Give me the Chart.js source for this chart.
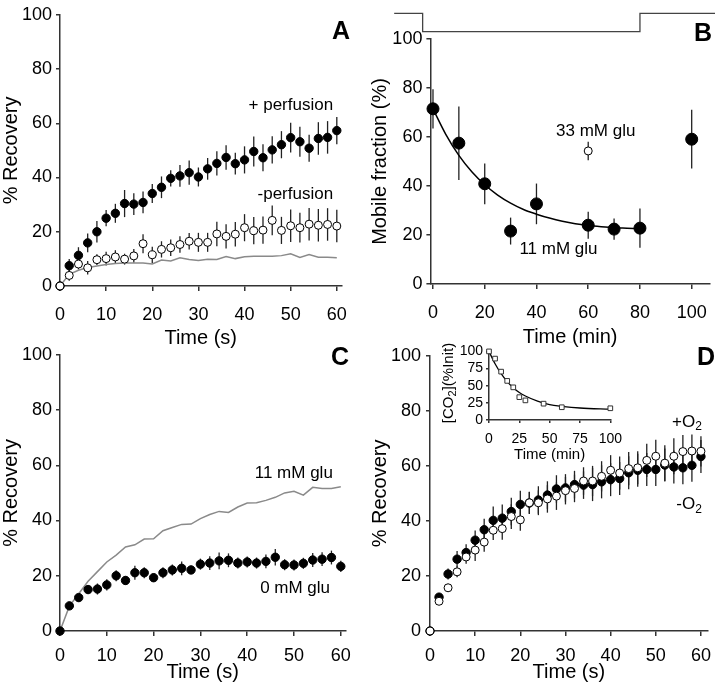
<!DOCTYPE html>
<html><head><meta charset="utf-8">
<script src="https://cdn.jsdelivr.net/npm/chart.js@4"></script>
<style>
html,body{margin:0;padding:0;background:#fff;}
body{width:720px;height:683px;position:relative;overflow:hidden;}
canvas{position:absolute;}
</style></head><body>
<canvas id="cA" width="360" height="350" style="left:0;top:0"></canvas>
<canvas id="cB" width="360" height="350" style="left:360px;top:0"></canvas>
<canvas id="cC" width="360" height="343" style="left:0;top:340px"></canvas>
<canvas id="cD" width="360" height="343" style="left:360px;top:340px"></canvas>
<canvas id="cI" width="190" height="125" style="left:440px;top:340px"></canvas>
<script>
// ---------- DATA ----------
const time60 = [0,2,4,6,8,10,12,14,16,18,20,22,24,26,28,30,32,34,36,38,40,42,44,46,48,50,52,54,56,58,60];
const ticksY100 = [0,20,40,60,80,100];
const ticksX60 = [0,10,20,30,40,50,60];

// Panel A
const perfOn    = [0,7.5,11.3,15.9,20,25,26.8,30.4,30.2,30.8,34.1,36.4,39.7,40.6,41.8,40.2,43.2,45.2,47.4,45.1,46.5,49.6,47.3,50.2,52.1,54.7,53.2,50.8,54.4,54.8,57.3];
const perfOnErr = [0,2.5,3,3.5,4,3,3.5,5,4,4,3.5,4,3,4,4.5,3.5,4,4.5,4.5,4,5,5.5,5,5,5,5.5,5.5,5,6,6,5];
const perfOff   = [0,3.9,8.1,6.7,9.7,10.1,10.7,9.9,11.1,15.6,11.5,13.5,14.1,15.3,16.5,16.1,16.1,19.2,18.3,19.1,21.5,20.4,20.6,24.2,20.5,22.2,21.5,22.8,22.4,22.7,22.1];
const perfOffErr= [0,2,2,2.5,2,2.5,2.5,2,2.5,3.5,3,3,3,3,3,3.5,3.5,4.5,4.5,4.5,5,5,5,5.5,5,6,5.5,6,6,6,6];
const ctrlA     = [0,4.3,5.8,6.8,7.4,7.9,8.3,8.5,8.5,8.5,8.1,9.6,9.2,10.4,9.8,9.4,9.9,9.8,10.9,10.1,10.8,11,11,11,11.2,11.9,10.5,11.6,10.6,10.6,10.4];

// Panel B
const timeB    = [0,10,20,30,40,60,70,80,100];
const mobile   = [71.5,57.5,40.9,21.6,32.7,24,22.4,22.8,59.1];
const mobileErr= [8,15,8.3,5.5,8.3,5.5,4.3,8,12];
const time33   = [60];
const mobile33 = [54.3];
const mobile33Err = [3.8];
const fitTimeB = [0,5,10,15,20,25,30,35,40,45,50,55,60,65,70,75,80];
const fitB     = [71.5,61,52.5,45.8,40.5,36.3,33,30.4,28.5,26.9,25.6,24.6,23.9,23.4,23,22.8,22.6];
const ticksXB  = [0,20,40,60,80,100];
const stepTimeB  = [-15,-4,-4,80,80,109];
const stepLevelB = [110.5,110.5,103,103,110.5,110.5];

// Panel C
const glu0    = [0,9.1,12.1,15,15.2,16.7,20,18.3,21.1,21.1,19.3,21.1,22.1,22.7,22.1,24.2,24.6,25.4,25.6,24.6,25,24.6,25.2,26.7,24,23.9,24.5,25.7,26,26.6,23.4];
const glu0Err = [0,1.5,1.5,1.5,2,2,2,1.5,2.5,2,1.5,2,2,2.5,1.5,2,2.5,3,2.5,2,2,2,2.5,3,2,2,2,2.5,2.5,2.5,2];
const glu11   = [0,9,13.5,18,21.5,25,27.5,30.4,31.2,33.3,33.4,36.3,37.5,38.6,38.7,40.7,42.2,43.3,42.9,44.9,46.3,46.4,47.3,48.4,50,50.6,49.2,52,51.6,51.6,52.2];

// Panel D
const o2Off    = [0,12.3,20.7,26.1,28.5,33,36.8,40.2,41,43.4,46,46.5,47.6,49.4,51.6,52,53.2,53,53.2,54.2,55,55.4,57.5,58.4,58.7,58.7,60.3,59.6,59.3,60.2,63.4];
const o2OffErr = [0,1.5,2,3,3,3.5,4,5,5,5,5,4,5,5,5,5,5,5,6,6,6,6,6,6,6,6,6,6,6,6,6];
const o2On     = [0,10.8,15.7,21.5,26.9,29.4,32.3,36.6,37.2,41.6,40.4,46.6,46.6,48,49,51,51.8,54.5,54.5,56.2,58.4,57.4,59,59.3,62,63.5,61,63.5,65.2,65.4,65.3];
const o2OnErr  = [0,1,1.5,2,2.5,4,3.5,3.5,4,4.5,4,4,4.5,5,5,5,5,5,5.5,5.5,5.5,6,6,6,6,6,6.5,6.5,6,6,5.5];

// Inset
const co2Time  = [0,5,10,15,20,25,30,45,60,100];
const co2      = [100,89.5,70.5,57,47.6,33.3,28.6,23.8,18.6,17.1];
const co2FitT  = [0,5,10,15,20,25,30,40,50,60,75,100];
const co2Fit   = [100,82,67.5,56,47,40,35,27.5,22.5,20,17.5,15.8];
const ticksInset = [0,25,50,75,100];

// ---------- HELPERS ----------
const FONT = "'Liberation Sans', Arial, Helvetica, sans-serif";
const AX = '#333';
const GRAY = '#8a8a8a';
const pts = (xs, ys) => xs.map((x, i) => ({x: x, y: ys[i]}));

Chart.register({
  id: 'errorBars',
  beforeDatasetsDraw(chart) {
    const ctx = chart.ctx;
    chart.data.datasets.forEach((ds, i) => {
      if (!ds.errors) return;
      const meta = chart.getDatasetMeta(i);
      const xs = chart.scales[meta.xAxisID], ys = chart.scales[meta.yAxisID];
      ctx.save();
      ctx.strokeStyle = '#222';
      ctx.lineWidth = 1.3;
      ds.data.forEach((p, j) => {
        const e = ds.errors[j];
        if (!e) return;
        const x = xs.getPixelForValue(p.x);
        ctx.beginPath();
        ctx.moveTo(x, ys.getPixelForValue(p.y - e));
        ctx.lineTo(x, ys.getPixelForValue(p.y + e));
        ctx.stroke();
      });
      ctx.restore();
    });
  }
});

function drawParts(ctx, x, y, parts, align) {
  ctx.save();
  ctx.textBaseline = 'middle';
  ctx.textAlign = 'left';
  let w = 0;
  parts.forEach(p => { ctx.font = (p[3] || 'normal') + ' ' + p[1] + 'px ' + FONT; w += ctx.measureText(p[0]).width; });
  let cx = align === 'right' ? x - w : align === 'center' ? x - w / 2 : x;
  parts.forEach(p => {
    ctx.font = (p[3] || 'normal') + ' ' + p[1] + 'px ' + FONT;
    ctx.fillStyle = '#000';
    ctx.fillText(p[0], cx, y + (p[2] || 0));
    cx += ctx.measureText(p[0]).width;
  });
  ctx.restore();
}

function notes(items, letter, extra) {
  return {
    id: 'notes',
    afterDraw(chart) {
      const ctx = chart.ctx;
      const sx = chart.scales.x, sy = chart.scales.y;
      items.forEach(it => {
        drawParts(ctx, sx.getPixelForValue(it.x), sy.getPixelForValue(it.y), it.parts, it.align);
      });
      if (letter) drawParts(ctx, letter.px, letter.py, [[letter.t, 25, 0, 'bold']], 'center');
      if (extra) extra(chart);
    }
  };
}

function xAxis(o) {
  return {
    type: 'linear', min: o.min, max: o.max,
    border: {display: true, color: AX, width: 1.5},
    grid: {display: true, drawOnChartArea: false, drawTicks: true, tickLength: o.tickLen || 5, color: AX, lineWidth: 1.5},
    ticks: {color: '#000', font: {family: FONT, size: o.tickSize || 18, weight: 'normal', lineHeight: 1.2}, padding: o.tickPad || 13, maxRotation: 0, autoSkip: false},
    title: {display: !!o.title, text: o.title, color: '#000', font: {family: FONT, size: o.titleSize || 20, weight: 'normal', lineHeight: 1.2}, padding: {top: 0, bottom: o.titlePad || 0}},
    afterBuildTicks: s => { s.ticks = o.ticks.map(v => ({value: v})); },
    afterFit: s => { s.height = o.size; }
  };
}
function yAxis(o) {
  return {
    type: 'linear', min: o.min, max: o.max,
    border: {display: true, color: AX, width: 1.5},
    grid: {display: true, drawOnChartArea: false, drawTicks: true, tickLength: o.tickLen || 4, color: AX, lineWidth: 1.5},
    ticks: {color: '#000', font: {family: FONT, size: o.tickSize || 18, weight: 'normal', lineHeight: 1.2}, padding: o.tickPad || 4, autoSkip: false},
    title: {display: !!o.title, text: o.title, color: '#000', font: {family: FONT, size: o.titleSize || 20, weight: 'normal', lineHeight: 1.1}, padding: {top: o.titlePad || 0, bottom: 0}},
    afterBuildTicks: s => { s.ticks = o.ticks.map(v => ({value: v})); },
    afterFit: s => { s.width = o.size; }
  };
}
function baseOpts(padTop, padRight, x, y) {
  return {
    responsive: false, animation: false, events: [], devicePixelRatio: 1,
    layout: {autoPadding: false, padding: {top: padTop, right: padRight, left: 0, bottom: 0}},
    plugins: {legend: {display: false}, tooltip: {enabled: false}},
    scales: {x: x, y: y}
  };
}
const filled = (r) => ({pointRadius: r, backgroundColor: '#000', borderColor: '#000', borderWidth: 1, clip: false});
const open = (r) => ({pointRadius: r, backgroundColor: '#fff', borderColor: '#000', borderWidth: 1, clip: false});

// ---------- PANEL A ----------
new Chart('cA', {
  type: 'scatter',
  data: {datasets: [
    Object.assign({data: pts(time60, perfOff), errors: perfOffErr}, open(4)),
    Object.assign({data: pts(time60, perfOn), errors: perfOnErr}, filled(4.2)),
    {data: pts(time60, ctrlA), showLine: true, pointRadius: 0, borderColor: GRAY, borderWidth: 1.5, clip: false}
  ]},
  options: baseOpts(7, 11.3,
    xAxis({min: 0, max: 61, ticks: ticksX60, title: 'Time (s)', size: 64, titlePad: 0.01}),
    yAxis({min: 0, max: 100, ticks: ticksY100, title: '% Recovery', size: 60, titlePad: 0})),
  plugins: [notes([
    {x: 59.2, y: 66.7, parts: [['+ perfusion', 17]], align: 'right'},
    {x: 59.2, y: 33.7, parts: [['-perfusion', 17]], align: 'right'}
  ], {t: 'A', px: 341, py: 32})]
});

// ---------- PANEL B ----------
new Chart('cB', {
  type: 'scatter',
  data: {datasets: [
    Object.assign({data: pts(time33, mobile33), errors: mobile33Err}, open(4)),
    Object.assign({data: pts(timeB, mobile), errors: mobileErr}, filled(6)),
    {data: pts(fitTimeB, fitB), showLine: true, pointRadius: 0, borderColor: '#000', borderWidth: 1.5, cubicInterpolationMode: 'monotone', clip: false}
  ]},
  options: baseOpts(39, 360 - 355.5,
    xAxis({min: -1, max: 107, ticks: ticksXB, title: 'Time (min)', size: 66, titlePad: 1}),
    yAxis({min: 0, max: 100, ticks: ticksY100, title: 'Mobile fraction (%)', size: 70.4, titlePad: 9})),
  plugins: [notes([
    {x: 62.9, y: 62.4, parts: [['33 mM glu', 17]], align: 'center'},
    {x: 48.5, y: 14.3, parts: [['11 mM glu', 17]], align: 'center'}
  ], {t: 'B', px: 343, py: 34}, (chart) => {
    const ctx = chart.ctx, sx = chart.scales.x, sy = chart.scales.y;
    ctx.save();
    ctx.strokeStyle = '#444';
    ctx.lineWidth = 1.3;
    ctx.beginPath();
    stepTimeB.forEach((t, i) => {
      const px = sx.getPixelForValue(t), py = sy.getPixelForValue(stepLevelB[i]);
      if (i === 0) ctx.moveTo(px, py); else ctx.lineTo(px, py);
    });
    ctx.stroke();
    ctx.restore();
  })]
});

// ---------- PANEL C ----------
new Chart('cC', {
  type: 'scatter',
  data: {datasets: [
    Object.assign({data: pts(time60, glu0), errors: glu0Err}, filled(4.2)),
    {data: pts(time60, glu11), showLine: true, pointRadius: 0, borderColor: GRAY, borderWidth: 1.5, clip: false}
  ]},
  options: baseOpts(12, 11.3,
    xAxis({min: 0, max: 61, ticks: ticksX60, title: 'Time (s)', size: 52, titlePad: -1.5, tickPad: 9}),
    yAxis({min: 0, max: 100, ticks: ticksY100, title: '% Recovery', size: 60, titlePad: 0})),
  plugins: [notes([
    {x: 58.3, y: 57, parts: [['11 mM glu', 17]], align: 'right'},
    {x: 57.7, y: 15.4, parts: [['0 mM glu', 17]], align: 'right'}
  ], {t: 'C', px: 340, py: 18})]
});

// ---------- PANEL D ----------
new Chart('cD', {
  type: 'scatter',
  data: {datasets: [
    Object.assign({data: pts(time60, o2On), errors: o2OnErr}, open(4)),
    Object.assign({data: pts(time60, o2Off), errors: o2OffErr}, filled(4.2))
  ]},
  options: baseOpts(12, 2,
    xAxis({min: 0, max: 61.5, ticks: ticksX60, title: 'Time (s)', size: 52, titlePad: -1.5, tickPad: 9}),
    yAxis({min: 0, max: 100, ticks: ticksY100, title: '% Recovery', size: 70, titlePad: 9, tickPad: 5})),
  plugins: [notes([
    {x: 60.2, y: 76, parts: [['+O', 17], ['2', 12, 5]], align: 'right'},
    {x: 60.2, y: 45.9, parts: [['-O', 17], ['2', 12, 5]], align: 'right'}
  ], {t: 'D', px: 346, py: 18})]
});

// ---------- INSET ----------
new Chart('cI', {
  type: 'scatter',
  data: {datasets: [
    {data: pts(co2Time, co2), pointStyle: 'rect', pointRadius: 3.3, backgroundColor: '#fff', borderColor: '#333', borderWidth: 1, clip: false},
    {data: pts(co2FitT, co2Fit), showLine: true, pointRadius: 0, borderColor: '#000', borderWidth: 1.3, cubicInterpolationMode: 'monotone', clip: false}
  ]},
  options: baseOpts(10, 11,
    xAxis({min: 0, max: 100, ticks: ticksInset, title: 'Time (min)', size: 45, titlePad: 1, tickSize: 14, titleSize: 15, tickLen: 3, tickPad: 8}),
    yAxis({min: 0, max: 100, ticks: ticksInset, title: '', size: 49, tickSize: 14, tickLen: 3, tickPad: 3})),
  plugins: [notes([], null, (chart) => {
    const ctx = chart.ctx;
    ctx.save();
    ctx.translate(9, 43);
    ctx.rotate(-Math.PI / 2);
    drawParts(ctx, 0, 0, [['[CO', 15], ['2', 11, 4], ['](%Init)', 15]], 'center');
    ctx.restore();
  })]
});
</script>
</body></html>
